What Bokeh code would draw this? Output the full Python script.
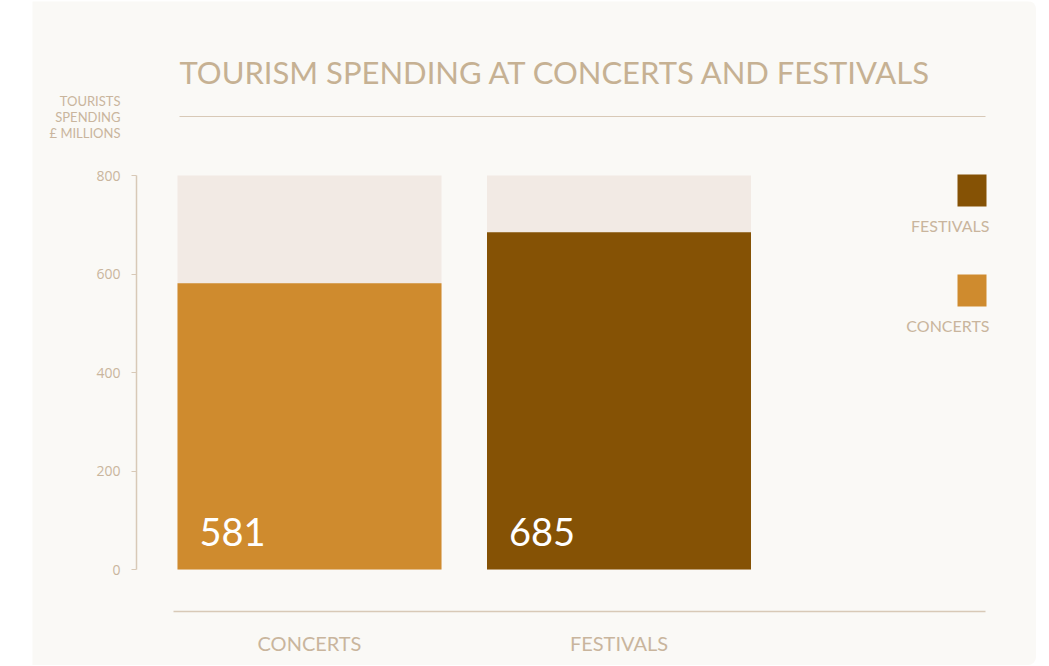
from bokeh.plotting import figure
from bokeh.models import ColumnDataSource, Range1d, FixedTicker, Label
from bokeh.layouts import row
from bokeh.core.properties import value
from bokeh.embed import file_html
from bokeh.resources import INLINE

# ---------------- data ----------------
categories = ["CONCERTS", "FESTIVALS"]
spending = [581, 685]
bar_colors = ["#cf8b2e", "#855205"]
y_ticks = [0, 200, 400, 600, 800]
y_max = 800
title_text = "TOURISM SPENDING AT CONCERTS AND FESTIVALS"
y_title_lines = ["TOURISTS", "SPENDING", "£ MILLIONS"]
legend_order = ["FESTIVALS", "CONCERTS"]

# ---------------- style ----------------
PANEL = "#faf9f6"
TRACK = "#f2eae4"
TEXT = "#c9b59d"
RULE = "#d8c9b7"
FONT = "Lato"

# ---------------- layout (page pixels) ----------------
W, H = 1004, 664            # panel size
AXIS_ROOM = 60              # hidden side panel for the (relocated) y axis
PAGE_X0, PAGE_Y0 = 32, 2    # panel origin on the page
AXIS_X = 136                # page x of the y axis line
CAT0_X = 309                # page x of first category centre
STEP_X = 309.5              # px between category centres
ZERO_Y = 570                # page y of value 0
PX_PER_UNIT = 394 / 800     # vertical scale

def fx(px):
    return (px - CAT0_X) / STEP_X

def fy(py):
    return (ZERO_Y - py) / PX_PER_UNIT

x_range = Range1d(fx(PAGE_X0), fx(PAGE_X0 + W))
y_range = Range1d(fy(PAGE_Y0 + H), fy(PAGE_Y0))

p = figure(width=W + AXIS_ROOM, height=H, x_range=x_range, y_range=y_range,
           output_backend="svg", toolbar_location=None,
           min_border_left=AXIS_ROOM, min_border_right=0,
           min_border_top=0, min_border_bottom=0,
           background_fill_color=PANEL, border_fill_color=None,
           outline_line_color=None,
           styles={"border-radius": "8px", "overflow": "hidden"})
p.xgrid.visible = False
p.ygrid.visible = False
p.xaxis.visible = False

yax = p.yaxis[0]
yax.fixed_location = fx(AXIS_X)
yax.bounds = (0, y_max)
yax.ticker = FixedTicker(ticks=y_ticks)
yax.minor_tick_line_color = None
yax.major_tick_in = 0
yax.major_tick_out = 5
yax.axis_line_color = RULE
yax.major_tick_line_color = RULE
yax.axis_line_width = 1.5
yax.major_label_text_color = TEXT
yax.major_label_text_font = "Open Sans"
yax.major_label_text_font_size = "14px"
yax.major_label_standoff = 11

xs = list(range(len(categories)))
bar_w = 264 / STEP_X
src = ColumnDataSource(dict(x=xs, cat=categories, v=spending, c=bar_colors,
                            track=[y_max] * len(categories),
                            lab=[str(v) for v in spending],
                            lx=[x - bar_w / 2 + 22 / STEP_X for x in xs]))

p.vbar(x="x", top="track", bottom=0, width=bar_w, source=src,
       fill_color=TRACK, line_color=None)
p.vbar(x="x", top="v", bottom=0, width=bar_w, source=src,
       fill_color="c", line_color=None)

p.text(x="lx", y=fy(532), text="lab", source=src, text_color="white",
       text_font=value(FONT), text_font_size="38px",
       text_baseline="middle", text_align="left")

# category labels + baseline rule
p.text(x="x", y=fy(643), text="cat", source=src, text_color=TEXT,
       text_font=value(FONT), text_font_size="20px",
       text_baseline="middle", text_align="center")
p.segment(x0=fx(173), x1=fx(985), y0=fy(612), y1=fy(612),
          line_color=RULE, line_width=1.5)

# title + rule
p.add_layout(Label(x=fx(179), y=fy(72), text=title_text, text_color="#c6b193",
                   text_font=FONT, text_font_size="31px",
                   text_baseline="middle", text_align="left"))
p.segment(x0=fx(179), x1=fx(985), y0=fy(117), y1=fy(117),
          line_color=RULE, line_width=1.2)

# y axis title
for i, line in enumerate(y_title_lines):
    p.add_layout(Label(x=fx(120), y=fy(101 + 16 * i), text=line,
                       text_color=TEXT, text_font=FONT,
                       text_font_size="13px",
                       text_baseline="middle", text_align="right"))

# legend
col_of = dict(zip(categories, bar_colors))
leg = ColumnDataSource(dict(
    name=legend_order,
    c=[col_of[n] for n in legend_order],
    y=[fy(191 + 100 * i) for i in range(len(legend_order))],
    ly=[fy(226 + 100 * i) for i in range(len(legend_order))]))
p.rect(x=fx(971.5), y="y", width=29, height=32, width_units="screen",
       height_units="screen", fill_color="c", line_color=None, source=leg)
p.text(x=fx(989), y="ly", text="name", source=leg, text_color=TEXT,
       text_font=value(FONT), text_font_size="16px",
       text_baseline="middle", text_align="right")

layout = row(p, styles={"margin-left": f"{PAGE_X0 - AXIS_ROOM}px",
                        "margin-top": "1px"})
open("out.html", "w").write(file_html(layout, INLINE))
